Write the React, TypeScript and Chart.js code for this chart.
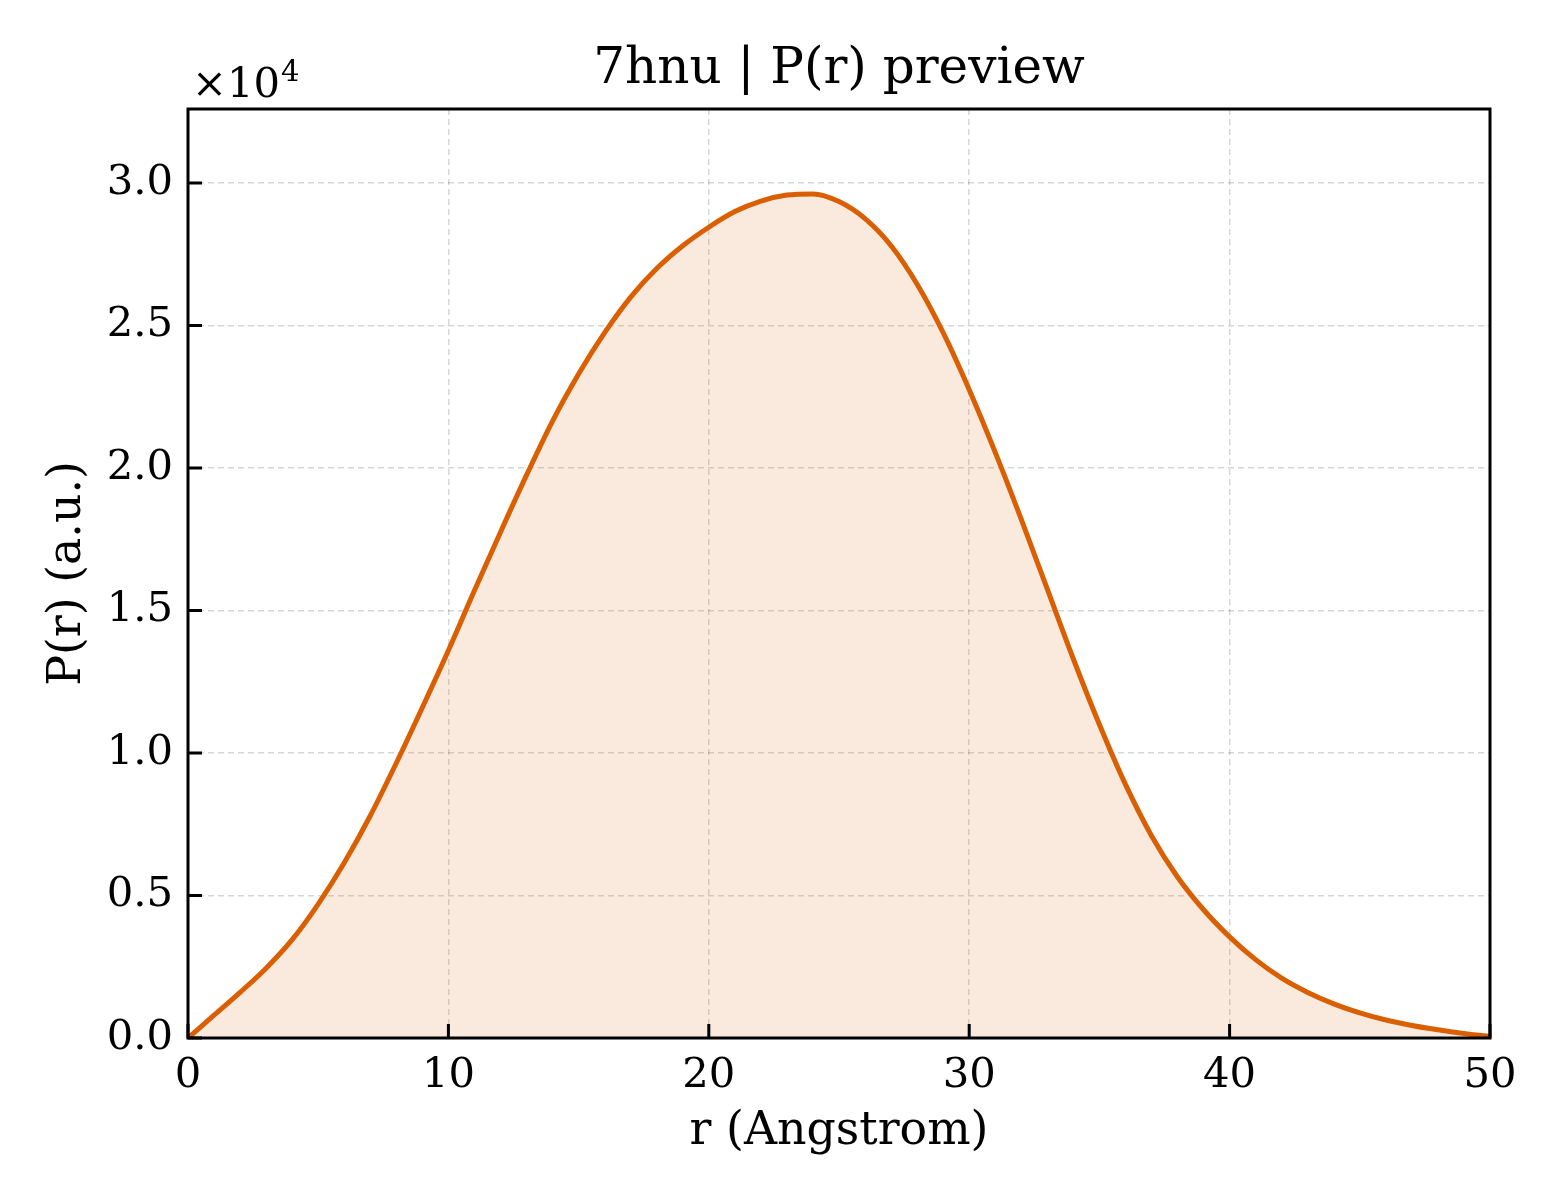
import { useEffect, useRef } from 'react';
import { Chart, registerables } from 'chart.js';

Chart.register(...registerables);

// r in Angstrom, P(r) in units of 1e4
const rValues = [
  0, 1, 2, 3, 4, 5, 6, 7, 8, 9, 10, 11, 12, 13, 14, 15, 16, 17, 18, 19, 20, 21, 22, 23, 24, 25,
  26, 27, 28, 29, 30, 31, 32, 33, 34, 35, 36, 37, 38, 39, 40, 41, 42, 43, 44, 45, 46, 47, 48, 49, 50,
];
const prValues = [
  0, 0.08, 0.16, 0.245, 0.345, 0.47, 0.615, 0.78, 0.965, 1.16, 1.36, 1.57, 1.775, 1.975, 2.165,
  2.33, 2.475, 2.6, 2.7, 2.78, 2.845, 2.9, 2.937, 2.958, 2.962, 2.935, 2.875, 2.78, 2.645,
  2.475, 2.275, 2.055, 1.82, 1.575, 1.33, 1.1, 0.89, 0.71, 0.565, 0.45, 0.355, 0.275, 0.21, 0.16,
  0.12, 0.088, 0.063, 0.044, 0.029, 0.016, 0.005,
];
const xTicks = [0, 10, 20, 30, 40, 50];
const yTicks = [0, 0.5, 1.0, 1.5, 2.0, 2.5, 3.0];

const FONT = '"DejaVu Serif", serif';
const ORANGE = '#d95f02';

// frame, inward ticks and the x10^4 offset text
const framePlugin = {
  id: 'frame',
  afterDraw(chart: any) {
    const { ctx, chartArea: a, scales } = chart;
    ctx.save();
    ctx.strokeStyle = '#000';
    ctx.lineWidth = 3;
    ctx.beginPath();
    xTicks.forEach((v) => {
      const px = scales.x.getPixelForValue(v);
      ctx.moveTo(px, a.bottom);
      ctx.lineTo(px, a.bottom - 14);
    });
    yTicks.forEach((v) => {
      const py = scales.y.getPixelForValue(v);
      ctx.moveTo(a.left, py);
      ctx.lineTo(a.left + 14, py);
    });
    ctx.stroke();
    ctx.strokeRect(a.left, a.top, a.right - a.left, a.bottom - a.top);

    ctx.fillStyle = '#000';
    ctx.textBaseline = 'alphabetic';
    ctx.textAlign = 'left';
    ctx.font = `41.7px ${FONT}`;
    const base = '×10';
    ctx.fillText(base, a.left + 4, a.top - 12);
    const w = ctx.measureText(base).width;
    ctx.font = `29px ${FONT}`;
    ctx.fillText('4', a.left + 4 + w + 1, a.top - 28);
    ctx.restore();
  },
};

const App = () => {
  const canvasRef = useRef<HTMLCanvasElement | null>(null);

  useEffect(() => {
    if (!canvasRef.current) return;
    const chart = new Chart(canvasRef.current, {
      type: 'line',
      data: {
        datasets: [
          {
            data: rValues.map((r, i) => ({ x: r, y: prValues[i] })),
            borderColor: ORANGE,
            borderWidth: 5,
            backgroundColor: 'rgba(217, 95, 2, 0.13)',
            fill: 'origin',
            pointRadius: 0,
            cubicInterpolationMode: 'monotone',
          },
        ],
      },
      options: {
        animation: false,
        responsive: false,
        devicePixelRatio: 1,
        layout: { padding: { left: 0, right: 70, top: 0, bottom: 0 } },
        plugins: {
          legend: { display: false },
          tooltip: { enabled: false },
          title: {
            display: true,
            fullSize: false,
            text: '7hnu | P(r) preview',
            color: '#000',
            font: { family: FONT, size: 50, weight: 'normal' },
            padding: { top: 40, bottom: 9 },
          },
        },
        scales: {
          x: {
            type: 'linear',
            min: 0,
            max: 50,
            afterFit: (s: any) => {
              s.height = 162;
            },
            ticks: {
              stepSize: 10,
              color: '#000',
              padding: 13,
              font: { family: FONT, size: 41.7 },
              maxRotation: 0,
            },
            grid: { color: 'rgba(0,0,0,0.16)', lineWidth: 1.5, drawTicks: false },
            border: { display: false, dash: [6, 4] },
            title: {
              display: true,
              text: 'r (Angstrom)',
              color: '#000',
              font: { family: FONT, size: 45.8 },
              padding: { top: 0, bottom: 40 },
            },
          },
          y: {
            type: 'linear',
            min: 0,
            max: 3.26,
            afterFit: (s: any) => {
              s.width = 188;
            },
            ticks: {
              stepSize: 0.5,
              includeBounds: false,
              color: '#000',
              padding: 15,
              font: { family: FONT, size: 41.7 },
              callback: (v: any) => Number(v).toFixed(1),
            },
            grid: { color: 'rgba(0,0,0,0.16)', lineWidth: 1.5, drawTicks: false },
            border: { display: false, dash: [6, 4] },
            title: {
              display: true,
              text: 'P(r) (a.u.)',
              color: '#000',
              font: { family: FONT, size: 45.8 },
              padding: { top: 41, bottom: 0 },
            },
          },
        },
      },
      plugins: [framePlugin],
    } as any);
    return () => {
      chart.destroy();
    };
  }, []);

  return (
    <div style={{ position: 'absolute', left: 0, top: 0, width: 1560, height: 1200, background: '#fff' }}>
      <canvas ref={canvasRef} width={1560} height={1200} style={{ width: 1560, height: 1200 }}></canvas>
    </div>
  );
};

export default App;
